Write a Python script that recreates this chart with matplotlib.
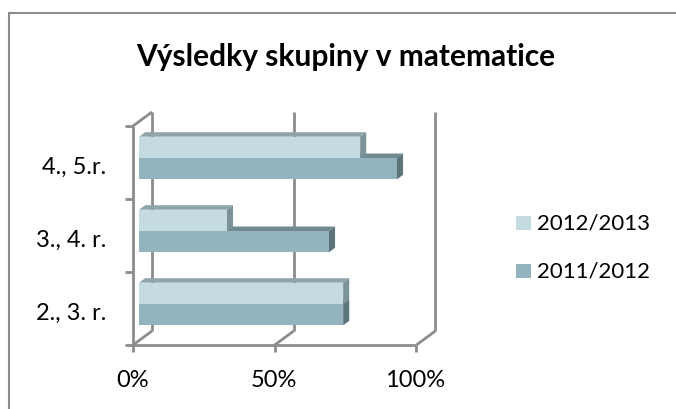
import matplotlib
matplotlib.use('Agg')
import matplotlib.pyplot as plt
from matplotlib.patches import Polygon, Rectangle

# data
categories = ['2., 3. r.', '3., 4. r.', '4., 5.r.']
series = ['2012/2013', '2011/2012']
vals_2012 = [72, 31, 78]   # light
vals_2011 = [72, 67, 91]   # dark
xticks = [0, 50, 100]
xlabels = ['0%', '50%', '100%']
title = 'Výsledky skupiny v matematice'

# colours: front, top, side
light = ('#c3dbe1', '#8fa4ab', '#7d939a')
dark = ('#93b4be', '#6f8b91', '#5d7479')
grid_c = '#8c8c8c'

W, H = 676, 410
fig = plt.figure(figsize=(W / 100, H / 100), dpi=100)

# axes placed at the bar plane (pixel positions)
x0px, x1px = 139.1, 422.5
ytop, ybot = 122.5, 341.5
ax = fig.add_axes([x0px / W, 1 - ybot / H, (x1px - x0px) / W, (ybot - ytop) / H])
ax.set_xlim(0, 100)
ax.set_ylim(-0.5, 2.5)
ax.axis('off')

# depth: full box depth offsets in data units, bar plane position
DX = 19 / (x1px - x0px) * 100
DY = 14 / ((ybot - ytop) / 3)
P = 0.32
BD = 0.32  # bar depth


def pt(x, y, d):
    return (x + (d - P) * DX, y + (d - P) * DY)


def line(a, b, **kw):
    ax.plot([a[0], b[0]], [a[1], b[1]], color=grid_c, lw=2, clip_on=False,
            solid_capstyle='butt', **kw)


ylo, yhi = -0.5, 2.5
# back wall gridlines + floor diagonals
for t in xticks:
    line(pt(t, ylo, 1), pt(t, yhi, 1))
    line(pt(t, ylo, 0), pt(t, ylo, 1))
# left wall
line(pt(0, ylo, 0), pt(0, yhi, 0))
line(pt(0, yhi, 0), pt(0, yhi, 1))
# front floor line
line(pt(0, ylo, 0), pt(100, ylo, 0))
# ticks
tl_x = 8 / (x1px - x0px) * 100
tl_y = 7 / ((ybot - ytop) / 3)
for t in xticks:
    a = pt(t, ylo, 0)
    line(a, (a[0], a[1] - tl_y))
for b in [-0.5, 0.5, 1.5, 2.5]:
    a = pt(0, b, 0)
    line(a, (a[0] - tl_x, a[1]))

# bars
bh = 0.292
ddx, ddy = BD * DX, BD * DY


def bar3d(v, y0, y1, cols):
    front, top, side = cols
    ax.add_patch(Rectangle((0, y0), v, y1 - y0, fc=front, ec='none', zorder=3))
    ax.add_patch(Polygon([(0, y1), (v, y1), (v + ddx, y1 + ddy), (ddx, y1 + ddy)],
                         closed=True, fc=top, ec='none', zorder=3))
    ax.add_patch(Polygon([(v, y0), (v, y1), (v + ddx, y1 + ddy), (v + ddx, y0 + ddy)],
                         closed=True, fc=side, ec='none', zorder=3))


for i in range(len(categories) - 1, -1, -1):
    bar3d(vals_2011[i], i - bh, i, dark)
    bar3d(vals_2012[i], i, i + bh, light)

# labels
font = 'Lato'
for t, lab in zip(xticks, xlabels):
    a = pt(t, ylo, 0)
    ax.text(a[0] - 0.3, a[1] - 0.47, lab, ha='center', va='center', fontsize=17,
            family=font, color='black')
for i, lab in enumerate(categories):
    a = pt(0, i, 0)
    ax.text(-11.5, a[1] - 0.05, lab, ha='right', va='center', fontsize=17,
            family=font, color='black')

fig.text(346 / W, 1 - 57 / H, title, ha='center', va='center', fontsize=21.5,
         fontweight='bold', family=font, color='black')

# legend
for k, (lab, cols) in enumerate(zip(series, [light, dark])):
    yc = 224 + k * 48
    fig.patches.append(Rectangle((516 / W, 1 - (yc + 7) / H), 14.5 / W, 14 / H,
                                 transform=fig.transFigure, fc=cols[0], ec='none'))
    fig.text(537 / W, 1 - yc / H, lab, ha='left', va='center', fontsize=16,
             family=font, color='black')

# chart frame
fig.patches.append(Rectangle((9 / W, -0.1), 1.2, 1 - 14 / H + 0.1,
                             transform=fig.transFigure, fc='none', ec=grid_c, lw=1.5))

fig.savefig('out.png', dpi=100)
